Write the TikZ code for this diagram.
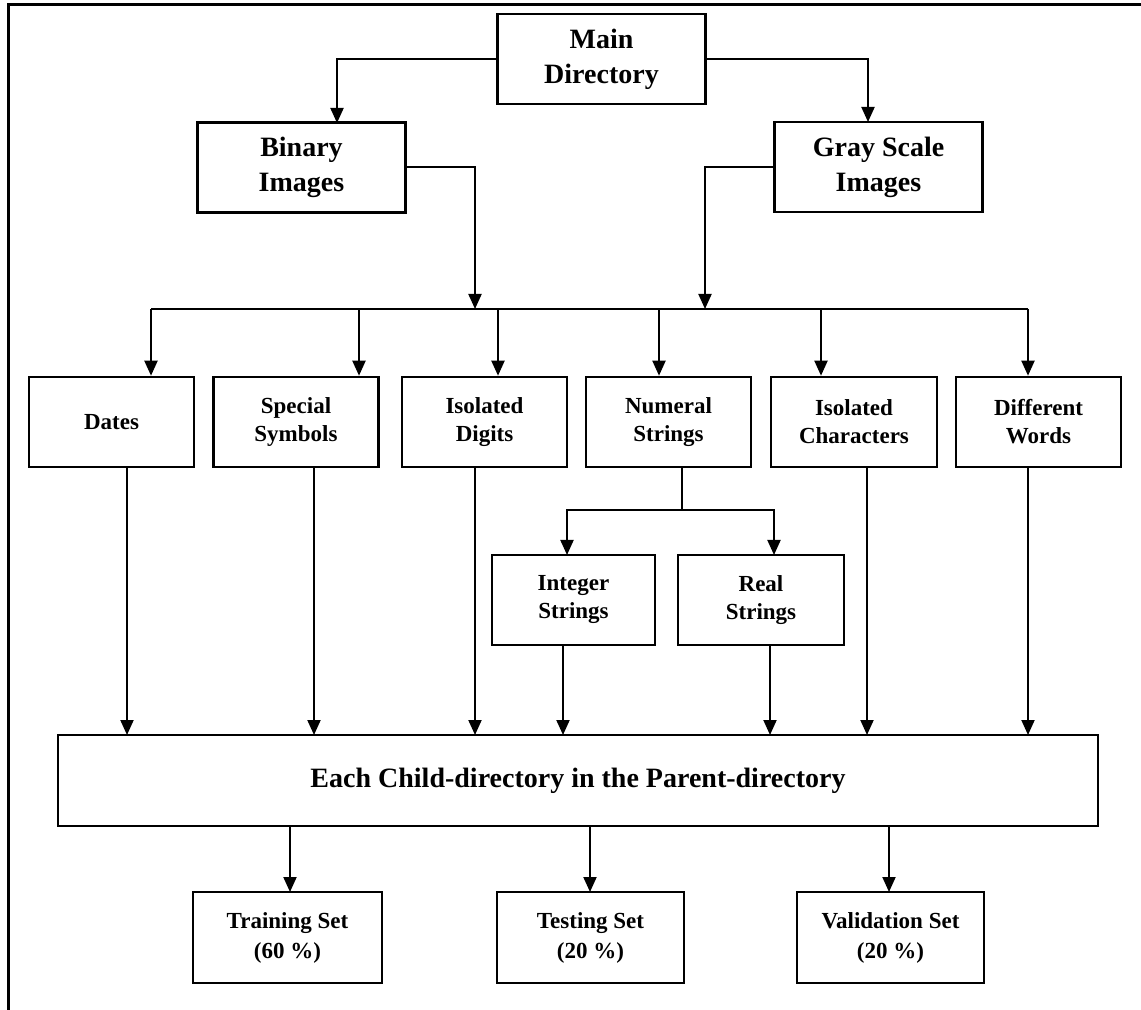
\documentclass[tikz,border=0pt]{standalone}
\usepackage{fontspec}
\setmainfont{Liberation Serif}
\usetikzlibrary{arrows.meta,positioning}
\tikzset{
  dirbox/.style={draw,line width=1.3pt,inner sep=0pt,align=center,
    font=\bfseries\fontsize{11.5}{14}\selectfont,minimum width=82.5pt,minimum height=45pt},
  topbox/.style={dirbox,font=\bfseries\fontsize{14}{17.5}\selectfont,minimum width=104pt},
  setbox/.style={dirbox,font=\bfseries\fontsize{11.5}{15}\selectfont,minimum width=94pt,minimum height=45.5pt},
  conn/.style={line width=1pt},
  arr/.style={conn,-{Triangle[length=7.5pt,width=6.5pt]}},
}

\begin{document}
\begin{tikzpicture}[x=0.5pt,y=-0.5pt]
  \useasboundingbox (0,0) rectangle (1141,1010);
  % page frame
  \draw[line width=1.5pt] (8,1010) -- (8,5) -- (1141,5);

  % main and image kinds
  \node[topbox] (main) at (601.5,59) {Main\\Directory};
  \node[topbox] (bin) at (301.5,167.5) {Binary\\Images};
  \node[topbox] (gray) at (878.5,167) {Gray Scale\\Images};
  \coordinate (binin) at (337,123);
  \coordinate (grayin) at (868,122);
  \draw[arr] (main.west) -| (binin);
  \draw[arr] (main.east) -| (grayin);

  % bus to the child directories
  \coordinate (busL) at (151,309);
  \coordinate (busR) at (1028,309);
  \coordinate (binout) at (475,309);
  \coordinate (grayout) at (705,309);
  \draw[conn] (busL) -- (busR);
  \draw[arr] (bin.east) -| (binout);
  \draw[arr] (gray.west) -| (grayout);

  \node[dirbox] (dates) at (111.5,422) {Dates};
  \node[dirbox] (spec) at (296,422) {Special\\Symbols};
  \node[dirbox] (idig) at (484.5,422) {Isolated\\Digits};
  \node[dirbox] (num) at (668.5,422) {Numeral\\Strings};
  \node[dirbox,minimum width=83pt] (ichar) at (854,422) {Isolated\\Characters};
  \node[dirbox] (words) at (1038.5,422) {Different\\Words};
  \foreach \n/\x in {dates/151,spec/359,idig/498,num/659,ichar/821,words/1028}
    \coordinate (bus\n) at (\x,309);
  \foreach \n in {dates,spec,idig,num,ichar,words}
    \draw[arr] (bus\n) -- (bus\n |- \n.north);

  % numeral strings split
  \node[dirbox,minimum width=81.5pt] (int) at (573.5,600) {Integer\\Strings};
  \node[dirbox,minimum width=83pt] (real) at (761,600) {Real\\Strings};
  \coordinate (numsplit) at (682,510);
  \coordinate (intin) at (567,555);
  \coordinate (realin) at (774,555);
  \draw[conn] (numsplit |- num.south) -- (numsplit);
  \draw[arr] (numsplit) -| (intin);
  \draw[arr] (numsplit) -| (realin);

  % parent directory
  \node[dirbox,font=\bfseries\fontsize{14}{17}\selectfont,minimum width=520pt,minimum height=45.5pt]
    (big) at (578,780.5) {Each Child-directory in the Parent-directory};
  \foreach \n/\x in {dates/127,spec/314,idig/475,int/563,real/770,ichar/867,words/1028}
    \coordinate (in\n) at (\x,735);
  \foreach \n in {dates,spec,idig,int,real,ichar,words}
    \draw[arr] (in\n |- \n.south) -- (in\n);

  % the three sets
  \node[setbox,minimum width=94.5pt] (train) at (287.5,937.5) {Training Set\\(60 \%)};
  \node[setbox,minimum width=93.5pt] (test) at (590.5,937.5) {Testing Set\\(20 \%)};
  \node[setbox,minimum width=93.5pt] (valid) at (890.5,937.5) {Validation Set\\(20 \%)};
  \coordinate (trainin) at (290,892);
  \coordinate (testin) at (590,892);
  \coordinate (validin) at (889,892);
  \draw[arr] (trainin |- big.south) -- (trainin);
  \draw[arr] (testin |- big.south) -- (testin);
  \draw[arr] (validin |- big.south) -- (validin);
\end{tikzpicture}
\end{document}
